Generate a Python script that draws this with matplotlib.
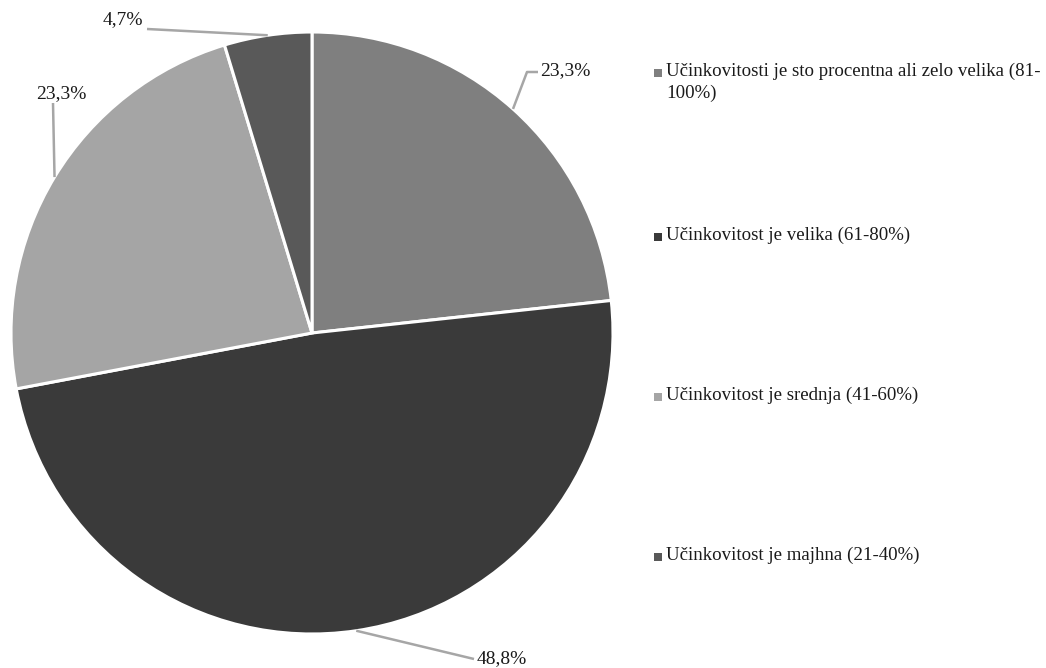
import numpy as np
import matplotlib.pyplot as plt

# data
categories = [
    'Učinkovitosti je sto procentna ali zelo velika (81-\n100%)',
    'Učinkovitost je velika (61-80%)',
    'Učinkovitost je srednja (41-60%)',
    'Učinkovitost je majhna (21-40%)',
]
values = [23.3, 48.8, 23.3, 4.7]
value_labels = ['23,3%', '48,8%', '23,3%', '4,7%']
colors = ['#7f7f7f', '#3a3a3a', '#a5a5a5', '#595959']

W, H = 1046, 668
plt.rcParams['font.family'] = ['Liberation Serif', 'DejaVu Serif']

fig = plt.figure(figsize=(W / 100, H / 100), dpi=100)
ax = fig.add_axes([0, 0, 1, 1])

cx, cy, r = 312, H - 333, 301
wedges, _ = ax.pie(values, colors=colors, startangle=90, counterclock=False,
                   center=(cx, cy), radius=r, frame=True,
                   wedgeprops=dict(edgecolor='white', linewidth=2.2))
ax.set_xlim(0, W)
ax.set_ylim(0, H)
ax.set_aspect('equal')
ax.axis('off')

# leader line bends and label positions (pixel coords, y down)
leaders = [
    [(527, 72), (538, 72)],
    [(474, 659)],
    [(53, 103)],
    [(147, 29)],
]
label_pos = [(540, 71, 'left'), (477, 659, 'left'), (61, 94, 'center'), (143, 20, 'right')]

for w, pts, (lx, ly, ha), lab in zip(wedges, leaders, label_pos, value_labels):
    mid = np.deg2rad((w.theta1 + w.theta2) / 2)
    ex, ey = cx + r * np.cos(mid), cy + r * np.sin(mid)
    xs = [ex] + [p[0] for p in pts]
    ys = [ey] + [H - p[1] for p in pts]
    ax.plot(xs, ys, color='#a6a6a6', lw=1.8, solid_capstyle='butt')
    ax.text(lx, H - ly, lab, ha=ha, va='center', fontsize=14, color='#1a1a1a')

# legend
leg_y = [73, 237, 397, 557]
for c, lab, y in zip(colors, categories, leg_y):
    ax.scatter([658], [H - y], marker='s', s=30, color=c, linewidths=0)
    ax.text(666, H - y + 10, lab, ha='left', va='top', fontsize=13.6,
            color='#1a1a1a', linespacing=1.35)

fig.savefig('out.png', dpi=100)
